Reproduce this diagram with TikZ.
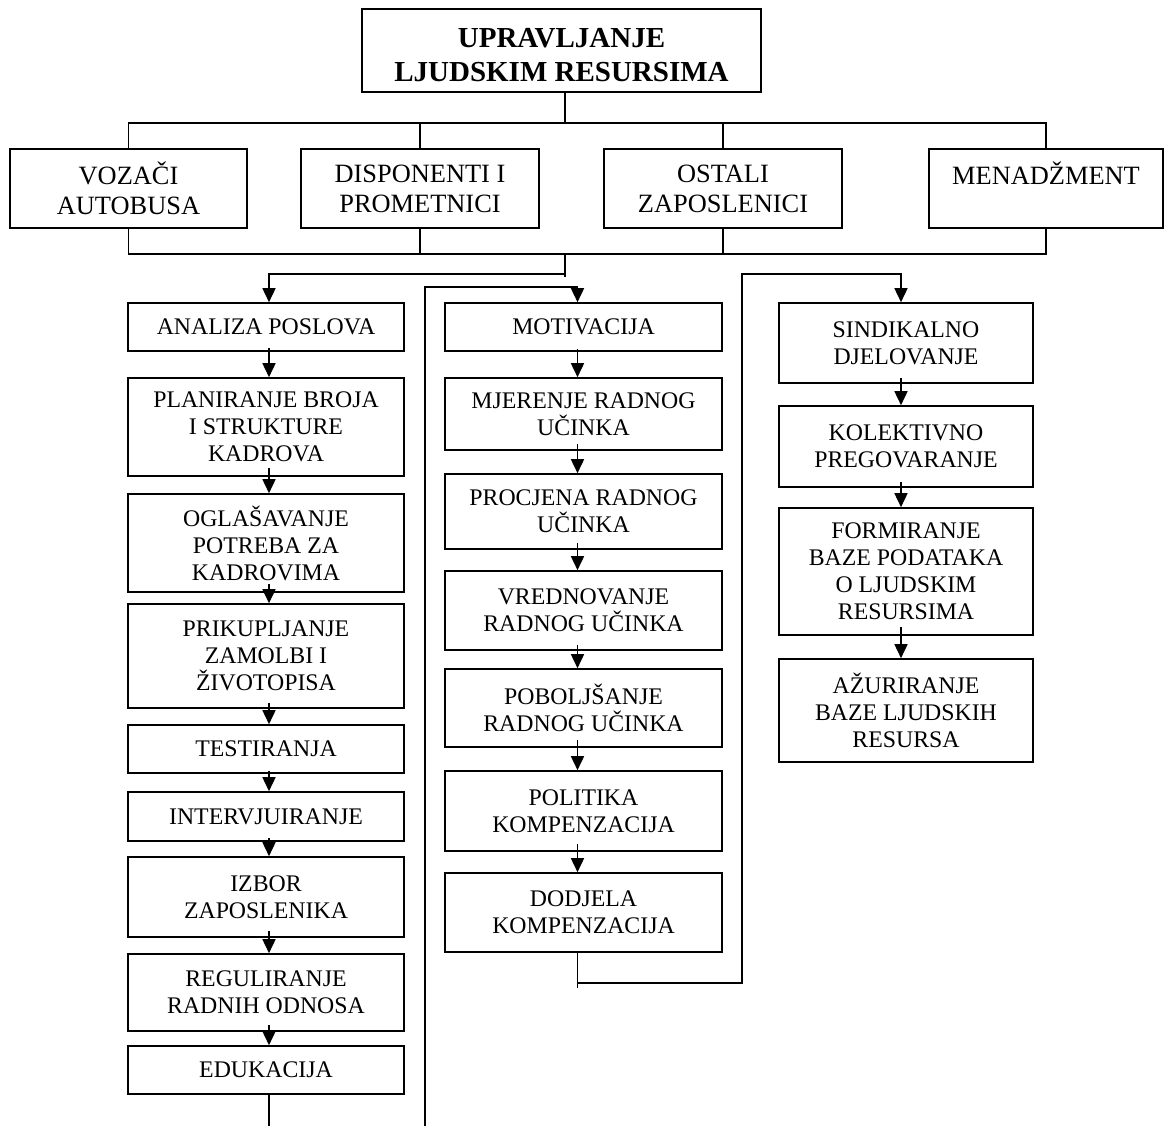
\documentclass[tikz,border=0pt]{standalone}
\usepackage{fontspec}
\setmainfont{Liberation Serif}
\usetikzlibrary{arrows.meta,calc}
\begin{document}
\begin{tikzpicture}[x=1pt,y=-1pt,
  ln/.style={line width=1.6pt},
  arr/.style={ln,-{Triangle[length=14pt,width=13pt]}},
  box/.style={draw,line width=1.6pt,inner sep=0pt,align=center,font=\fontsize{23.8}{27}\selectfont},
  lbox/.style={box,minimum width=276},
  mbox/.style={box,minimum width=277},
  rbox/.style={box,minimum width=254},
  gbox/.style={box,minimum height=79,font=\fontsize{26.4}{30}\selectfont},
  ttext/.style={inner sep=0pt,align=center,font=\bfseries\fontsize{29}{34}\selectfont}]
\useasboundingbox (0,0) rectangle (1165,1126);
% title
\node[draw,line width=1.6pt,inner sep=0pt,minimum width=399,minimum height=83] (title) at (561.5,50.5) {};
\node[ttext] (titletext) at (561.5,55) {UPRAVLJANJE\\LJUDSKIM RESURSIMA};
% groups
\node[gbox,minimum width=237] (b1) at (128.5,188.5) {VOZAČI\\AUTOBUSA};
\node[gbox,minimum width=238] (b2) at (420,188.5) {DISPONENTI I\\PROMETNICI};
\node[gbox,minimum width=238] (b3) at (723,188.5) {OSTALI\\ZAPOSLENICI};
\node[gbox,minimum width=234] (b4) at (1046,188.5) {MENADŽMENT\\\phantom{X}};
% left column
\node[lbox,minimum height=48] (a1) at (266,327) {ANALIZA POSLOVA};
\node[lbox,minimum height=98] (a2) at (266,427) {PLANIRANJE BROJA\\I STRUKTURE\\KADROVA};
\node[lbox,minimum height=98] (a3) at (266,543) {OGLAŠAVANJE\\POTREBA ZA\\KADROVIMA};
\node[lbox,minimum height=104] (a4) at (266,656) {PRIKUPLJANJE\\ZAMOLBI I\\ŽIVOTOPISA};
\node[lbox,minimum height=48] (a5) at (266,749) {TESTIRANJA};
\node[lbox,minimum height=49] (a6) at (266,816.5) {INTERVJUIRANJE};
\node[lbox,minimum height=80] (a7) at (266,897) {IZBOR\\ZAPOSLENIKA};
\node[lbox,minimum height=77] (a8) at (266,992.5) {REGULIRANJE\\RADNIH ODNOSA};
\node[lbox,minimum height=48] (a9) at (266,1070) {EDUKACIJA};
% middle column
\node[mbox,minimum height=48] (m1) at (583.5,327) {MOTIVACIJA};
\node[mbox,minimum height=72] (m2) at (583.5,414) {MJERENJE RADNOG\\UČINKA};
\node[mbox,minimum height=75] (m3) at (583.5,511.5) {PROCJENA RADNOG\\UČINKA};
\node[mbox,minimum height=79] (m4) at (583.5,610.5) {VREDNOVANJE\\RADNOG UČINKA};
\node[mbox,minimum height=78] (m5) at (583.5,708) {POBOLJŠANJE\\RADNOG UČINKA};
\node[mbox,minimum height=80] (m6) at (583.5,811) {POLITIKA\\KOMPENZACIJA};
\node[mbox,minimum height=79] (m7) at (583.5,912.5) {DODJELA\\KOMPENZACIJA};
% right column
\node[rbox,minimum height=80] (r1) at (906,343) {SINDIKALNO\\DJELOVANJE};
\node[rbox,minimum height=81] (r2) at (906,446.5) {KOLEKTIVNO\\PREGOVARANJE};
\node[rbox,minimum height=127] (r3) at (906,571.5) {FORMIRANJE\\BAZE PODATAKA\\O LJUDSKIM\\RESURSIMA};
\node[rbox,minimum height=103] (r4) at (906,710.5) {AŽURIRANJE\\BAZE LJUDSKIH\\RESURSA};
% junction coordinates
\coordinate (tj) at (565,123);
\coordinate (bj) at (565,254);
\coordinate (lj) at (565,274);
\coordinate (mb) at (425,1126);
\coordinate (mt) at (425,287);
\coordinate (lb) at (269,1126);
\coordinate (c1) at (577,983);
\coordinate (rt) at (742,274);
% top tree
\draw[ln] (title.south -| tj) -- (tj);
\draw[ln] (b1.north) -- (b1.north |- tj) -- (b4.north |- tj) -- (b4.north);
\draw[ln] (b2.north) -- (b2.north |- tj);
\draw[ln] (b3.north) -- (b3.north |- tj);
\draw[ln] (b1.south) -- (b1.south |- bj) -- (b4.south |- bj) -- (b4.south);
\draw[ln] (b2.south) -- (b2.south |- bj);
\draw[ln] (b3.south) -- (b3.south |- bj);
\draw[ln] (bj) -- ++(0,23);
\draw[arr] (lj) -| ([xshift=3]a1.north);
% left chain
\draw[arr] ([xshift=3,yshift=4]a1.south) -- ([xshift=3]a2.north);
\draw[arr] ([xshift=3,yshift=9]a2.south) -- ([xshift=3]a3.north);
\draw[arr] ([xshift=3,yshift=9]a3.south) -- ([xshift=3]a4.north);
\draw[arr] ([xshift=3,yshift=6]a4.south) -- ([xshift=3]a5.north);
\draw[arr] ([xshift=3,yshift=3]a5.south) -- ([xshift=3]a6.north);
\draw[arr] ([xshift=3,yshift=4]a6.south) -- ([xshift=3]a7.north);
\draw[arr] ([xshift=3,yshift=7]a7.south) -- ([xshift=3]a8.north);
\draw[arr] ([xshift=3,yshift=7]a8.south) -- ([xshift=3]a9.north);
\draw[ln] ([xshift=3]a9.south) -- ([xshift=3]a9.south |- lb);
% middle
\draw[arr] (mb) -- (mt) -| ([xshift=-6]m1.north);
\draw[arr] ([xshift=-6,yshift=3]m1.south) -- ([xshift=-6]m2.north);
\draw[arr] ([xshift=-6,yshift=7]m2.south) -- ([xshift=-6]m3.north);
\draw[arr] ([xshift=-6,yshift=7]m3.south) -- ([xshift=-6]m4.north);
\draw[arr] ([xshift=-6,yshift=6]m4.south) -- ([xshift=-6]m5.north);
\draw[arr] ([xshift=-6,yshift=8]m5.south) -- ([xshift=-6]m6.north);
\draw[arr] ([xshift=-6,yshift=8]m6.south) -- ([xshift=-6]m7.north);
\draw[ln] ([xshift=-6]m7.south) -- ++(0,35);
% right
\draw[arr] (c1) -| (rt) -| ([xshift=-5]r1.north);
\draw[arr] ([xshift=-5,yshift=6]r1.south) -- ([xshift=-5]r2.north);
\draw[arr] ([xshift=-5,yshift=6]r2.south) -- ([xshift=-5]r3.north);
\draw[arr] ([xshift=-5,yshift=9]r3.south) -- ([xshift=-5]r4.north);
\end{tikzpicture}
\end{document}
